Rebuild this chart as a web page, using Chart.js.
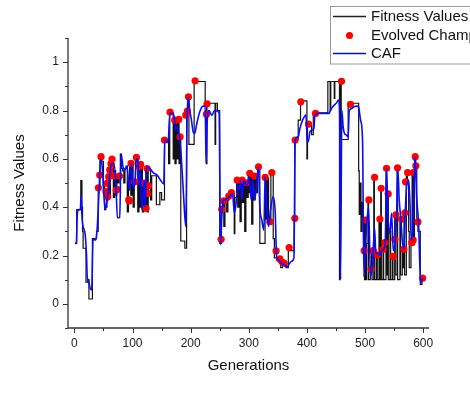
<!DOCTYPE html>
<html lang="en">
<head>
    <meta charset="UTF-8">
    <title>Fitness Values</title>
    <script src="https://cdn.jsdelivr.net/npm/chart.js"></script>
    <style>
        body { margin: 0; background: #fff; }
        #wrap { width: 470px; height: 393px; }
    </style>
</head>
<body>
    <div id="wrap"><canvas id="fitChart"></canvas></div>
    <script>
        // [generation, value] pairs
        const fitnessValues = [
            [1,0.25],[4,0.39],[11,0.51],[13,0.40],[14,0.30],[15,0.23],[20,0.09],[23,0.10],[25,0.02],[31,0.27],
            [38,0.30],[41,0.48],[44,0.60],[47,0.59],[50,0.49],[52,0.39],[54,0.40],[56,0.43],[58,0.52],[60,0.45],
            [62,0.58],[64,0.60],[67,0.44],[69,0.55],[71,0.45],[73,0.53],[75,0.50],[77,0.53],[79,0.62],[81,0.56],
            [83,0.55],[85,0.50],[87,0.56],[89,0.57],[91,0.38],[93,0.50],[95,0.58],[97,0.45],[99,0.58],[101,0.40],
            [103,0.51],[105,0.60],[107,0.60],[109,0.38],[111,0.57],[113,0.40],[115,0.58],[117,0.38],[119,0.50],[121,0.40],
            [123,0.56],[125,0.38],[127,0.56],[131,0.43],[133,0.53],[141,0.41],[147,0.46],[150,0.43],[155,0.68],[162,0.58],
            [164,0.79],[170,0.60],[171,0.75],[173,0.58],[175,0.76],[177,0.60],[178,0.75],[180,0.58],[181,0.70],[183,0.26],
            [190,0.23],[193,0.78],[195,0.86],[197,0.66],[206,0.92],[225,0.83],[227,0.58],[228,0.83],[242,0.66],[243,0.83],
            [246,0.80],[250,0.25],[253,0.40],[255,0.43],[257,0.32],[259,0.43],[262,0.38],[264,0.43],[266,0.45],[269,0.46],
            [273,0.45],[275,0.29],[276,0.44],[279,0.51],[281,0.40],[283,0.51],[285,0.34],[287,0.51],[289,0.42],[291,0.51],
            [293,0.30],[295,0.50],[297,0.44],[299,0.54],[301,0.46],[303,0.54],[305,0.33],[307,0.53],[309,0.43],[311,0.53],
            [313,0.46],[315,0.57],[319,0.25],[328,0.52],[330,0.35],[332,0.52],[334,0.35],[338,0.54],[342,0.27],[344,0.19],
            [348,0.18],[352,0.17],[355,0.15],[358,0.17],[361,0.16],[364,0.15],[368,0.22],[378,0.35],[379,0.68],[385,0.76],
            [389,0.84],[400,0.60],[401,0.74],[408,0.70],[411,0.79],[436,0.92],[440,0.80],[441,0.92],[447,0.85],[448,0.92],
            [456,0.10],[457,0.92],[459,0.68],[471,0.83],[489,0.55],[490,0.37],[491,0.50],[493,0.30],[495,0.42],[497,0.35],
            [498,0.22],[499,0.10],[500,0.35],[501,0.10],[503,0.25],[505,0.43],[506,0.10],[509,0.15],[511,0.22],[512,0.10],
            [515,0.53],[516,0.10],[519,0.20],[521,0.10],[524,0.35],[525,0.10],[527,0.48],[528,0.10],[531,0.23],[532,0.10],
            [536,0.56],[537,0.12],[539,0.46],[540,0.10],[543,0.30],[544,0.10],[547,0.20],[548,0.10],[551,0.37],[552,0.12],
            [555,0.56],[556,0.10],[560,0.35],[561,0.12],[564,0.23],[565,0.15],[567,0.38],[568,0.12],[571,0.54],[573,0.50],
            [575,0.30],[576,0.15],[579,0.26],[581,0.54],[583,0.27],[585,0.61],[587,0.57],[589,0.34],[591,0.30],[595,0.08],
            [598,0.10],[600,0.10]
        ];

        const champions = [
            [41.3,0.48],[43.5,0.533],[45.8,0.609],[54.4,0.464],[56.1,0.499],[57.3,0.443],[59,0.526],[60.8,0.554],[63,0.58],[64.7,0.599],
            [67,0.53],[72,0.47],[73.3,0.474],[77.5,0.529],[93.5,0.43],[94.7,0.426],[97.4,0.581],[103.3,0.505],[106.7,0.606],[111.9,0.567],
            [114,0.577],[119.3,0.499],[123.2,0.395],[125,0.56],[126.2,0.457],[127.4,0.489],
            [154.9,0.678],[164.6,0.793],[172.6,0.76],[179.5,0.763],[181.8,0.691],[191.6,0.781],[194.4,0.798],[196.2,0.857],[207.6,0.923],
            [227.2,0.785],[228.2,0.828],[252.4,0.267],[253.5,0.391],[257,0.426],[265.6,0.446],[270.2,0.46],[280,0.512],[288.5,0.512],
            [296,0.501],[301.7,0.54],[309.8,0.529],[316.7,0.567],[328.1,0.523],[336.1,0.34],[339.6,0.543],[347,0.219],[353.4,0.186],
            [358,0.172],[361,0.168],[369.4,0.233],[379.2,0.354],[379.7,0.678],[389.5,0.836],[402.7,0.744],[414.8,0.788],[459.5,0.921],
            [475,0.825],[498.5,0.22],[500.2,0.347],[506.5,0.43],[510.5,0.143],[514,0.22],[516.4,0.523],[521.5,0.202],[525.5,0.351],
            [527.7,0.478],[531.2,0.226],[534,0.253],[537,0.561],[539.8,0.455],[548.4,0.196],[551.3,0.267],[553,0.368],[555.9,0.563],
            [562.8,0.35],[566.8,0.226],[568.5,0.377],[569.7,0.505],[573.2,0.543],[580.5,0.253],[582.8,0.264],[582.8,0.543],[586.3,0.609],
            [587.4,0.571],[590.9,0.339],[599,0.106]
        ];

        const caf = [
            [1,0.25],[3.4,0.25],[4.6,0.354],[6.9,0.39],[10.3,0.39],[11.5,0.45],[13.2,0.354],[15,0.32],[18.4,0.29],[20.7,0.21],
            [22.4,0.10],[24.1,0.10],[26.4,0.07],[29.8,0.058],[32.1,0.267],[36.7,0.264],[39,0.305],[42.5,0.47],[44.8,0.595],[47.1,0.584],
            [50.5,0.457],[52.8,0.39],[56.2,0.43],[59.7,0.50],[63.7,0.58],[67.7,0.58],[71.1,0.51],[74,0.356],[78,0.358],[80.3,0.62],
            [83.7,0.567],[86.6,0.554],[90.6,0.57],[92.9,0.512],[95.2,0.47],[98,0.58],[99.8,0.512],[102,0.478],[104.5,0.512],[106.8,0.60],
            [109.1,0.595],[111.3,0.485],[113.6,0.554],[116,0.39],[118.2,0.444],[120,0.512],[121.6,0.402],[123.9,0.554],[126.2,0.568],[129.7,0.56],
            [135.4,0.543],[142.3,0.533],[148,0.512],[153.8,0.496],[155.5,0.678],[161.2,0.667],[164.1,0.788],[169.8,0.788],[172.1,0.766],[174.4,0.719],
            [176.7,0.733],[179.6,0.705],[181.3,0.678],[184.2,0.595],[188.2,0.43],[191.6,0.32],[194.5,0.85],[196.2,0.85],[198.5,0.80],[201.4,0.76],
            [204.2,0.712],[207.1,0.705],[210,0.74],[215.7,0.795],[221.5,0.818],[224.9,0.818],[226.6,0.58],[228.3,0.746],[231.8,0.80],[236.4,0.78],
            [241,0.799],[243.3,0.80],[247.3,0.795],[249,0.788],[251.3,0.244],[253.5,0.36],[255.8,0.43],[259.2,0.43],[262.7,0.437],[267.3,0.444],
            [271.9,0.457],[275.3,0.375],[278.8,0.43],[281.1,0.492],[283.4,0.471],[285.7,0.512],[288,0.43],[291.5,0.512],[294.9,0.492],[297.2,0.492],
            [300.6,0.526],[304.1,0.43],[306.4,0.512],[309.8,0.43],[313.2,0.485],[316.7,0.567],[319,0.40],[322.4,0.347],[325.9,0.305],[328.2,0.526],
            [330.5,0.42],[334,0.32],[337.4,0.39],[342,0.444],[345.5,0.375],[347.8,0.196],[351.2,0.182],[355.8,0.168],[360.4,0.161],[366.2,0.154],
            [368.5,0.161],[373.1,0.175],[377.6,0.189],[379.9,0.678],[385.1,0.691],[388,0.726],[392.5,0.76],[398.3,0.781],[400.6,0.678],[402.3,0.671],
            [405.2,0.712],[408.6,0.719],[412,0.726],[413.7,0.781],[419.4,0.788],[430.9,0.788],[438.3,0.788],[440.6,0.802],[445.2,0.818],[451,0.832],
            [454.4,0.843],[456.2,0.80],[457.9,0.10],[460.1,0.80],[462.4,0.73],[464.7,0.705],[468.2,0.698],[471,0.691],[472.8,0.80],[476.8,0.808],
            [480.8,0.815],[485.4,0.818],[488.8,0.815],[492.3,0.76],[495.7,0.678],[498,0.113],[500.3,0.209],[502.6,0.32],[506,0.40],[509.5,0.113],
            [512.9,0.168],[516.4,0.313],[518.6,0.209],[522.1,0.209],[525.5,0.202],[528.4,0.216],[531.3,0.226],[534.7,0.25],[537,0.561],[539.3,0.375],
            [542.7,0.292],[545.6,0.375],[548.5,0.22],[551.9,0.264],[554.2,0.36],[556.5,0.554],[558.8,0.43],[561.7,0.347],[564,0.264],[566.8,0.226],
            [569.1,0.375],[571.4,0.485],[574.9,0.512],[577.2,0.42],[579.5,0.264],[581.8,0.292],[584.1,0.457],[586.4,0.609],[588.7,0.444],[592.1,0.333],
            [595.6,0.085],[597.9,0.10],[600.2,0.106]
        ];

        const seriesNames = ['Fitness Values', 'Evolved Champions', 'CAF'];
        const yTicks = [0, 0.2, 0.4, 0.6, 0.8, 1];
        const xTicks = [0, 100, 200, 300, 400, 500, 600];

        const toPts = arr => arr.map(p => ({ x: p[0], y: p[1] }));
        const FONT = '"Liberation Sans", Arial, sans-serif';

        // axis lines, major/minor ticks and the clipped legend box
        const framePlugin = {
            id: 'frame',
            afterDraw(chart) {
                const { ctx, chartArea: a, scales: { x, y } } = chart;
                ctx.save();
                ctx.strokeStyle = '#333';
                ctx.lineWidth = 1.3;
                ctx.beginPath();
                ctx.moveTo(a.left, a.top);
                ctx.lineTo(a.left, a.bottom);
                ctx.lineTo(a.right, a.bottom);
                ctx.stroke();

                ctx.lineWidth = 1;
                ctx.beginPath();
                for (let i = -1; i <= 11; i++) {
                    const py = Math.round(y.getPixelForValue(i / 10)) + 0.5;
                    const len = (i % 2 === 0) ? 5 : 3;
                    ctx.moveTo(a.left - len, py);
                    ctx.lineTo(a.left, py);
                }
                for (let i = 0; i <= 12; i++) {
                    const px = Math.round(x.getPixelForValue(i * 50)) + 0.5;
                    const len = (i % 2 === 0) ? 5 : 3;
                    ctx.moveTo(px, a.bottom);
                    ctx.lineTo(px, a.bottom + len);
                }
                ctx.stroke();

                // legend
                ctx.strokeStyle = '#999';
                ctx.lineWidth = 1;
                ctx.strokeRect(330.5, 6.5, 160, 57.5);
                ctx.lineWidth = 1.3;
                ctx.strokeStyle = '#222';
                ctx.beginPath(); ctx.moveTo(333, 16.5); ctx.lineTo(366, 16.5); ctx.stroke();
                ctx.fillStyle = '#ff0000';
                ctx.beginPath(); ctx.arc(349.5, 35.5, 3.5, 0, Math.PI * 2); ctx.fill();
                ctx.strokeStyle = '#0000ff';
                ctx.lineWidth = 1.6;
                ctx.beginPath(); ctx.moveTo(333, 53.5); ctx.lineTo(366, 53.5); ctx.stroke();
                ctx.fillStyle = '#111';
                ctx.font = '15px ' + FONT;
                ctx.textBaseline = 'middle';
                ctx.fillText(seriesNames[0], 371, 17);
                ctx.fillText(seriesNames[1], 371, 36);
                ctx.fillText(seriesNames[2], 371, 54);
                ctx.restore();
            }
        };

        const ctx = document.getElementById('fitChart').getContext('2d');
        const chart = new Chart(ctx, {
            type: 'line',
            data: {
                datasets: [
                    {
                        label: seriesNames[2],
                        data: toPts(caf),
                        borderColor: '#0a0aff',
                        borderWidth: 1.6,
                        pointRadius: 0,
                        cubicInterpolationMode: 'monotone',
                        fill: false
                    },
                    {
                        label: seriesNames[1],
                        data: toPts(champions),
                        showLine: false,
                        pointRadius: 3.6,
                        pointBackgroundColor: '#ff0000',
                        pointBorderWidth: 0,
                        borderColor: '#ff0000'
                    },
                    {
                        label: seriesNames[0],
                        data: toPts(fitnessValues),
                        borderColor: '#111',
                        borderWidth: 1.2,
                        pointRadius: 0,
                        stepped: true,
                        fill: false
                    }
                ]
            },
            options: {
                responsive: true,
                maintainAspectRatio: false,
                animation: false,
                layout: { padding: { top: 38, right: 41, left: 0, bottom: 0 } },
                plugins: { legend: { display: false }, tooltip: { enabled: false } },
                scales: {
                    x: {
                        type: 'linear',
                        min: -11,
                        max: 610,
                        afterBuildTicks: s => { s.ticks = xTicks.map(v => ({ value: v })); },
                        afterFit: s => { s.height = 65; },
                        grid: { display: false, drawTicks: false },
                        border: { display: false },
                        ticks: { color: '#222', padding: 8, maxRotation: 0, font: { family: FONT, size: 12 } },
                        title: { display: true, text: 'Generations', color: '#111', padding: { top: 0, bottom: 18 }, font: { family: FONT, size: 15 } }
                    },
                    y: {
                        type: 'linear',
                        min: -0.1,
                        max: 1.1,
                        afterBuildTicks: s => { s.ticks = yTicks.map(v => ({ value: v })); },
                        afterFit: s => { s.width = 68; },
                        grid: { display: false, drawTicks: false },
                        border: { display: false },
                        ticks: {
                            color: '#222',
                            padding: 9,
                            font: { family: FONT, size: 12 },
                            callback: v => String(Math.round(v * 10) / 10)
                        },
                        title: { display: true, text: 'Fitness Values', color: '#111', padding: { top: 11, bottom: 0 }, font: { family: FONT, size: 15 } }
                    }
                }
            },
            plugins: [framePlugin]
        });
    </script>
</body>
</html>
